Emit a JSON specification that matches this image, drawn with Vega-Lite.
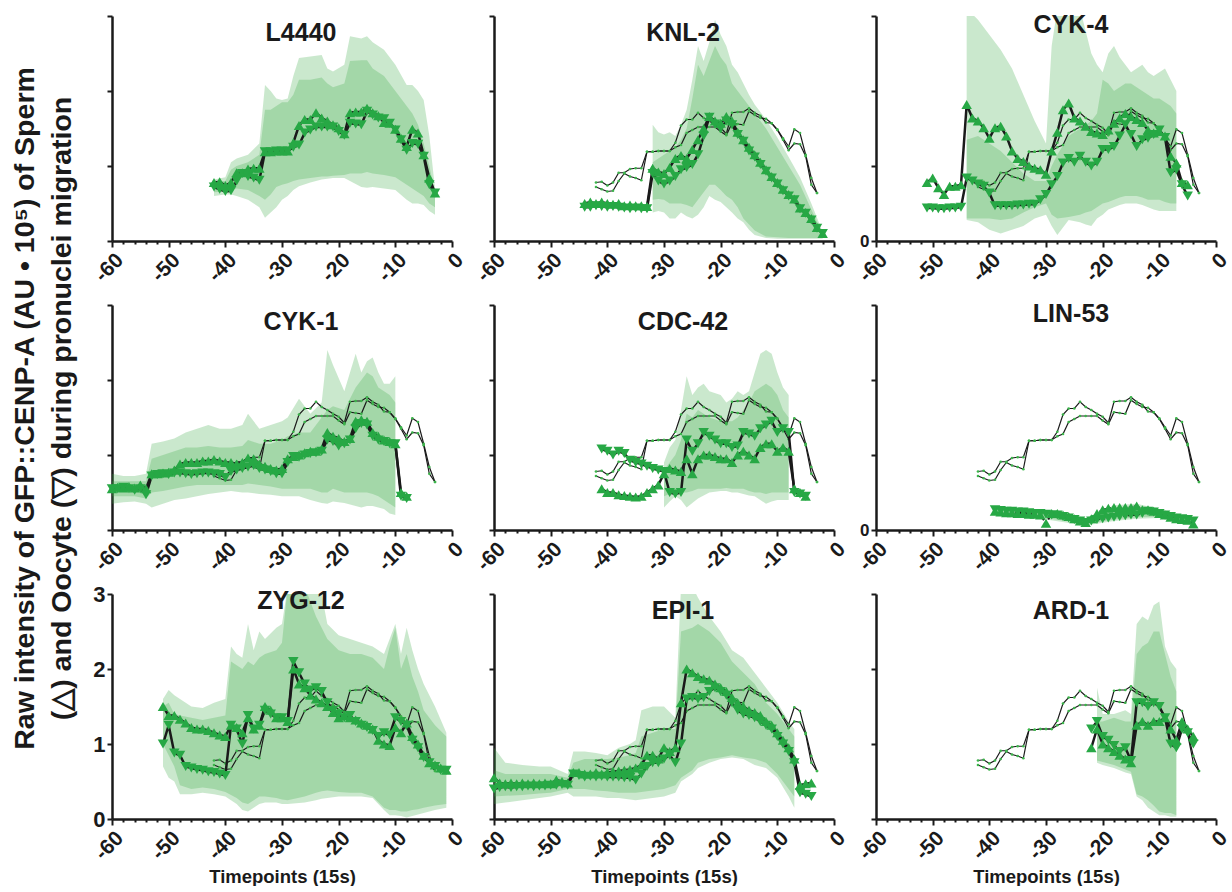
{
"$schema":"https://vega.github.io/schema/vega-lite/v6.json",
"background":"white",
"padding":{"left":10,"top":7,"right":0,"bottom":0},
"bounds":"flush",
"columns":3,
"spacing":{"row":64,"column":42},
"config":{"view":{"stroke":null},
"axis":{"domainColor":"#1a1a1a","domainWidth":2.5,"tickColor":"#1a1a1a","tickWidth":2,"grid":false,"labelFont":"Liberation Sans","labelFontWeight":"bold","labelColor":"#1a1a1a","labelOverlap":false,"titleFont":"Liberation Sans","titleFontWeight":"bold","titleColor":"#1a1a1a","titleFontSize":18.5},
"title":{"font":"Liberation Sans","fontWeight":"bold","fontSize":25,"color":"#1a1a1a","offset":-31,"anchor":"middle","frame":"group"}},
"datasets":{
"means":[
{"p":"L4440","t":-42,"S":0.78,"O":0.72},{"p":"L4440","t":-41,"S":0.79,"O":0.69},{"p":"L4440","t":-40,"S":0.74,"O":0.66},{"p":"L4440","t":-39,"S":0.78,"O":0.67},{"p":"L4440","t":-38,"S":0.91,"O":0.8},{"p":"L4440","t":-37,"S":0.91,"O":0.9},{"p":"L4440","t":-36,"S":0.96,"O":0.86},{"p":"L4440","t":-35,"S":0.97,"O":0.84},{"p":"L4440","t":-34,"S":0.97,"O":0.81},{"p":"L4440","t":-33,"S":1.19,"O":1.19},{"p":"L4440","t":-32,"S":1.19,"O":1.19},{"p":"L4440","t":-31,"S":1.2,"O":1.2},{"p":"L4440","t":-30,"S":1.2,"O":1.2},{"p":"L4440","t":-29,"S":1.2,"O":1.2},{"p":"L4440","t":-28,"S":1.31,"O":1.25},{"p":"L4440","t":-27,"S":1.54,"O":1.28},{"p":"L4440","t":-26,"S":1.62,"O":1.44},{"p":"L4440","t":-25,"S":1.62,"O":1.48},{"p":"L4440","t":-24,"S":1.71,"O":1.52},{"p":"L4440","t":-23,"S":1.64,"O":1.52},{"p":"L4440","t":-22,"S":1.6,"O":1.52},{"p":"L4440","t":-21,"S":1.55,"O":1.52},{"p":"L4440","t":-20,"S":1.51,"O":1.46},{"p":"L4440","t":-19,"S":1.43,"O":1.41},{"p":"L4440","t":-18,"S":1.71,"O":1.57},{"p":"L4440","t":-17,"S":1.72,"O":1.56},{"p":"L4440","t":-16,"S":1.72,"O":1.55},{"p":"L4440","t":-15,"S":1.77,"O":1.73},{"p":"L4440","t":-14,"S":1.71,"O":1.68},{"p":"L4440","t":-13,"S":1.67,"O":1.64},{"p":"L4440","t":-12,"S":1.58,"O":1.63},{"p":"L4440","t":-11,"S":1.57,"O":1.57},{"p":"L4440","t":-10,"S":1.49,"O":1.48},{"p":"L4440","t":-9,"S":1.37,"O":1.35},{"p":"L4440","t":-8,"S":1.26,"O":1.21},{"p":"L4440","t":-7,"S":1.49,"O":1.3},{"p":"L4440","t":-6,"S":1.44,"O":1.29},{"p":"L4440","t":-5,"S":1.15,"O":1.13},{"p":"L4440","t":-4,"S":0.84,"O":0.75},{"p":"L4440","t":-3,"S":0.64,"O":0.64},
{"p":"KNL-2","t":-44,"S":0.5,"O":0.45},{"p":"KNL-2","t":-43,"S":0.52,"O":0.45},{"p":"KNL-2","t":-42,"S":0.5,"O":0.47},{"p":"KNL-2","t":-41,"S":0.52,"O":0.46},{"p":"KNL-2","t":-40,"S":0.5,"O":0.45},{"p":"KNL-2","t":-39,"S":0.49,"O":0.46},{"p":"KNL-2","t":-38,"S":0.5,"O":0.45},{"p":"KNL-2","t":-37,"S":0.47,"O":0.44},{"p":"KNL-2","t":-36,"S":0.48,"O":0.43},{"p":"KNL-2","t":-35,"S":0.47,"O":0.44},{"p":"KNL-2","t":-34,"S":0.47,"O":0.43},{"p":"KNL-2","t":-33,"S":0.46,"O":0.43},{"p":"KNL-2","t":-32,"S":0.97,"O":0.9},{"p":"KNL-2","t":-31,"S":0.92,"O":0.8},{"p":"KNL-2","t":-30,"S":0.9,"O":0.76},{"p":"KNL-2","t":-29,"S":0.98,"O":0.8},{"p":"KNL-2","t":-28,"S":1.1,"O":0.86},{"p":"KNL-2","t":-27,"S":1.14,"O":0.95},{"p":"KNL-2","t":-26,"S":1.1,"O":0.98},{"p":"KNL-2","t":-25,"S":1.22,"O":1.02},{"p":"KNL-2","t":-24,"S":1.35,"O":1.15},{"p":"KNL-2","t":-23,"S":1.5,"O":1.4},{"p":"KNL-2","t":-22,"S":1.66,"O":1.65},{"p":"KNL-2","t":-21,"S":1.6,"O":1.56},{"p":"KNL-2","t":-20,"S":1.57,"O":1.5},{"p":"KNL-2","t":-19,"S":1.66,"O":1.6},{"p":"KNL-2","t":-18,"S":1.6,"O":1.55},{"p":"KNL-2","t":-17,"S":1.45,"O":1.42},{"p":"KNL-2","t":-16,"S":1.35,"O":1.33},{"p":"KNL-2","t":-15,"S":1.25,"O":1.2},{"p":"KNL-2","t":-14,"S":1.15,"O":1.12},{"p":"KNL-2","t":-13,"S":1.05,"O":1.02},{"p":"KNL-2","t":-12,"S":0.95,"O":0.93},{"p":"KNL-2","t":-11,"S":0.86,"O":0.84},{"p":"KNL-2","t":-10,"S":0.78,"O":0.76},{"p":"KNL-2","t":-9,"S":0.69,"O":0.67},{"p":"KNL-2","t":-8,"S":0.62,"O":0.6},{"p":"KNL-2","t":-7,"S":0.56,"O":0.55},{"p":"KNL-2","t":-6,"S":0.44,"O":0.43},{"p":"KNL-2","t":-5,"S":0.38,"O":0.37},{"p":"KNL-2","t":-4,"S":0.3,"O":0.28},{"p":"KNL-2","t":-3,"S":0.18,"O":0.17},{"p":"KNL-2","t":-2,"S":0.1,"O":0.1},
{"p":"CYK-4","t":-51,"S":0.78,"O":0.44},{"p":"CYK-4","t":-50,"S":0.84,"O":0.44},{"p":"CYK-4","t":-49,"S":0.71,"O":0.43},{"p":"CYK-4","t":-48,"S":0.62,"O":0.43},{"p":"CYK-4","t":-47,"S":0.73,"O":0.44},{"p":"CYK-4","t":-46,"S":0.73,"O":0.44},{"p":"CYK-4","t":-45,"S":0.75,"O":0.45},{"p":"CYK-4","t":-44,"S":1.82,"O":0.84},{"p":"CYK-4","t":-43,"S":1.64,"O":0.8},{"p":"CYK-4","t":-42,"S":1.6,"O":0.76},{"p":"CYK-4","t":-41,"S":1.51,"O":0.73},{"p":"CYK-4","t":-40,"S":1.37,"O":0.64},{"p":"CYK-4","t":-39,"S":1.51,"O":0.47},{"p":"CYK-4","t":-38,"S":1.53,"O":0.47},{"p":"CYK-4","t":-37,"S":1.4,"O":0.47},{"p":"CYK-4","t":-36,"S":1.2,"O":0.47},{"p":"CYK-4","t":-35,"S":1.1,"O":0.48},{"p":"CYK-4","t":-34,"S":1.06,"O":0.48},{"p":"CYK-4","t":-33,"S":1.0,"O":0.49},{"p":"CYK-4","t":-32,"S":0.97,"O":0.49},{"p":"CYK-4","t":-31,"S":0.95,"O":0.55},{"p":"CYK-4","t":-30,"S":0.89,"O":0.62},{"p":"CYK-4","t":-29,"S":1.2,"O":0.75},{"p":"CYK-4","t":-28,"S":1.45,"O":0.86},{"p":"CYK-4","t":-27,"S":1.75,"O":1.04},{"p":"CYK-4","t":-26,"S":1.84,"O":1.1},{"p":"CYK-4","t":-25,"S":1.64,"O":1.05},{"p":"CYK-4","t":-24,"S":1.6,"O":1.13},{"p":"CYK-4","t":-23,"S":1.53,"O":1.05},{"p":"CYK-4","t":-22,"S":1.46,"O":1.0},{"p":"CYK-4","t":-21,"S":1.44,"O":1.05},{"p":"CYK-4","t":-20,"S":1.42,"O":1.22},{"p":"CYK-4","t":-19,"S":1.48,"O":1.22},{"p":"CYK-4","t":-18,"S":1.57,"O":1.26},{"p":"CYK-4","t":-17,"S":1.64,"O":1.4},{"p":"CYK-4","t":-16,"S":1.7,"O":1.55},{"p":"CYK-4","t":-15,"S":1.66,"O":1.42},{"p":"CYK-4","t":-14,"S":1.62,"O":1.26},{"p":"CYK-4","t":-13,"S":1.58,"O":1.35},{"p":"CYK-4","t":-12,"S":1.48,"O":1.37},{"p":"CYK-4","t":-11,"S":1.44,"O":1.42},{"p":"CYK-4","t":-10,"S":1.46,"O":1.48},{"p":"CYK-4","t":-9,"S":1.4,"O":1.38},{"p":"CYK-4","t":-8,"S":1.13,"O":0.91},{"p":"CYK-4","t":-7,"S":1.04,"O":0.95},{"p":"CYK-4","t":-6,"S":0.78,"O":0.75},{"p":"CYK-4","t":-5,"S":0.75,"O":0.6},
{"p":"CYK-1","t":-60,"S":0.55,"O":0.55},{"p":"CYK-1","t":-59,"S":0.57,"O":0.55},{"p":"CYK-1","t":-58,"S":0.56,"O":0.57},{"p":"CYK-1","t":-57,"S":0.58,"O":0.55},{"p":"CYK-1","t":-56,"S":0.56,"O":0.53},{"p":"CYK-1","t":-55,"S":0.6,"O":0.55},{"p":"CYK-1","t":-54,"S":0.55,"O":0.47},{"p":"CYK-1","t":-53,"S":0.75,"O":0.72},{"p":"CYK-1","t":-52,"S":0.75,"O":0.74},{"p":"CYK-1","t":-51,"S":0.76,"O":0.75},{"p":"CYK-1","t":-50,"S":0.77,"O":0.74},{"p":"CYK-1","t":-49,"S":0.8,"O":0.76},{"p":"CYK-1","t":-48,"S":0.88,"O":0.76},{"p":"CYK-1","t":-47,"S":0.9,"O":0.75},{"p":"CYK-1","t":-46,"S":0.9,"O":0.74},{"p":"CYK-1","t":-45,"S":0.9,"O":0.75},{"p":"CYK-1","t":-44,"S":0.92,"O":0.76},{"p":"CYK-1","t":-43,"S":0.92,"O":0.76},{"p":"CYK-1","t":-42,"S":0.94,"O":0.75},{"p":"CYK-1","t":-41,"S":0.92,"O":0.74},{"p":"CYK-1","t":-40,"S":0.9,"O":0.7},{"p":"CYK-1","t":-39,"S":0.9,"O":0.78},{"p":"CYK-1","t":-38,"S":0.88,"O":0.8},{"p":"CYK-1","t":-37,"S":0.9,"O":0.82},{"p":"CYK-1","t":-36,"S":0.96,"O":0.84},{"p":"CYK-1","t":-35,"S":0.95,"O":0.86},{"p":"CYK-1","t":-34,"S":0.88,"O":0.82},{"p":"CYK-1","t":-33,"S":0.85,"O":0.8},{"p":"CYK-1","t":-32,"S":0.82,"O":0.78},{"p":"CYK-1","t":-31,"S":0.8,"O":0.75},{"p":"CYK-1","t":-30,"S":0.82,"O":0.75},{"p":"CYK-1","t":-29,"S":0.95,"O":0.9},{"p":"CYK-1","t":-28,"S":0.98,"O":0.98},{"p":"CYK-1","t":-27,"S":1.0,"O":0.97},{"p":"CYK-1","t":-26,"S":1.03,"O":1.0},{"p":"CYK-1","t":-25,"S":1.05,"O":1.02},{"p":"CYK-1","t":-24,"S":1.05,"O":1.03},{"p":"CYK-1","t":-23,"S":1.08,"O":1.05},{"p":"CYK-1","t":-22,"S":1.3,"O":1.2},{"p":"CYK-1","t":-21,"S":1.25,"O":1.18},{"p":"CYK-1","t":-20,"S":1.22,"O":1.12},{"p":"CYK-1","t":-19,"S":1.18,"O":1.15},{"p":"CYK-1","t":-18,"S":1.22,"O":1.2},{"p":"CYK-1","t":-17,"S":1.45,"O":1.35},{"p":"CYK-1","t":-16,"S":1.47,"O":1.42},{"p":"CYK-1","t":-15,"S":1.45,"O":1.4},{"p":"CYK-1","t":-14,"S":1.3,"O":1.25},{"p":"CYK-1","t":-13,"S":1.25,"O":1.2},{"p":"CYK-1","t":-12,"S":1.2,"O":1.18},{"p":"CYK-1","t":-11,"S":1.18,"O":1.15},{"p":"CYK-1","t":-10,"S":1.15,"O":1.15},{"p":"CYK-1","t":-9,"S":0.5,"O":0.45},{"p":"CYK-1","t":-8,"S":0.45,"O":0.42},
{"p":"CDC-42","t":-41,"S":0.55,"O":1.08},{"p":"CDC-42","t":-40,"S":0.5,"O":1.05},{"p":"CDC-42","t":-39,"S":0.5,"O":1.0},{"p":"CDC-42","t":-38,"S":0.47,"O":1.05},{"p":"CDC-42","t":-37,"S":0.46,"O":1.02},{"p":"CDC-42","t":-36,"S":0.45,"O":0.93},{"p":"CDC-42","t":-35,"S":0.44,"O":0.9},{"p":"CDC-42","t":-34,"S":0.45,"O":0.88},{"p":"CDC-42","t":-33,"S":0.5,"O":0.85},{"p":"CDC-42","t":-32,"S":0.55,"O":0.82},{"p":"CDC-42","t":-31,"S":0.6,"O":0.8},{"p":"CDC-42","t":-30,"S":0.75,"O":0.78},{"p":"CDC-42","t":-29,"S":0.82,"O":0.5},{"p":"CDC-42","t":-28,"S":0.8,"O":0.48},{"p":"CDC-42","t":-27,"S":0.78,"O":0.5},{"p":"CDC-42","t":-26,"S":0.95,"O":1.2},{"p":"CDC-42","t":-25,"S":0.75,"O":1.05},{"p":"CDC-42","t":-24,"S":0.95,"O":1.15},{"p":"CDC-42","t":-23,"S":1.0,"O":1.3},{"p":"CDC-42","t":-22,"S":1.0,"O":1.25},{"p":"CDC-42","t":-21,"S":0.98,"O":1.2},{"p":"CDC-42","t":-20,"S":0.95,"O":1.15},{"p":"CDC-42","t":-19,"S":0.95,"O":1.15},{"p":"CDC-42","t":-18,"S":0.9,"O":1.1},{"p":"CDC-42","t":-17,"S":1.0,"O":1.12},{"p":"CDC-42","t":-16,"S":1.05,"O":1.3},{"p":"CDC-42","t":-15,"S":1.0,"O":1.28},{"p":"CDC-42","t":-14,"S":0.95,"O":1.25},{"p":"CDC-42","t":-13,"S":1.1,"O":1.35},{"p":"CDC-42","t":-12,"S":1.15,"O":1.4},{"p":"CDC-42","t":-11,"S":1.15,"O":1.45},{"p":"CDC-42","t":-10,"S":1.05,"O":1.3},{"p":"CDC-42","t":-9,"S":1.1,"O":1.35},{"p":"CDC-42","t":-8,"S":1.05,"O":1.3},{"p":"CDC-42","t":-7,"S":0.55,"O":0.5},{"p":"CDC-42","t":-6,"S":0.5,"O":0.48},{"p":"CDC-42","t":-5,"S":0.45,"O":0.45},
{"p":"LIN-53","t":-39,"S":0.25,"O":0.27},{"p":"LIN-53","t":-38,"S":0.24,"O":0.26},{"p":"LIN-53","t":-37,"S":0.23,"O":0.25},{"p":"LIN-53","t":-36,"S":0.23,"O":0.25},{"p":"LIN-53","t":-35,"S":0.22,"O":0.24},{"p":"LIN-53","t":-34,"S":0.22,"O":0.24},{"p":"LIN-53","t":-33,"S":0.21,"O":0.23},{"p":"LIN-53","t":-32,"S":0.21,"O":0.22},{"p":"LIN-53","t":-31,"S":0.2,"O":0.22},{"p":"LIN-53","t":-30,"S":0.09,"O":0.21},{"p":"LIN-53","t":-29,"S":0.22,"O":0.2},{"p":"LIN-53","t":-28,"S":0.22,"O":0.2},{"p":"LIN-53","t":-27,"S":0.2,"O":0.18},{"p":"LIN-53","t":-26,"S":0.18,"O":0.16},{"p":"LIN-53","t":-25,"S":0.15,"O":0.14},{"p":"LIN-53","t":-24,"S":0.12,"O":0.12},{"p":"LIN-53","t":-23,"S":0.1,"O":0.1},{"p":"LIN-53","t":-22,"S":0.15,"O":0.12},{"p":"LIN-53","t":-21,"S":0.22,"O":0.14},{"p":"LIN-53","t":-20,"S":0.27,"O":0.15},{"p":"LIN-53","t":-19,"S":0.29,"O":0.16},{"p":"LIN-53","t":-18,"S":0.3,"O":0.17},{"p":"LIN-53","t":-17,"S":0.3,"O":0.18},{"p":"LIN-53","t":-16,"S":0.3,"O":0.19},{"p":"LIN-53","t":-15,"S":0.3,"O":0.2},{"p":"LIN-53","t":-14,"S":0.32,"O":0.2},{"p":"LIN-53","t":-13,"S":0.27,"O":0.22},{"p":"LIN-53","t":-12,"S":0.27,"O":0.25},{"p":"LIN-53","t":-11,"S":0.25,"O":0.24},{"p":"LIN-53","t":-10,"S":0.22,"O":0.22},{"p":"LIN-53","t":-9,"S":0.2,"O":0.2},{"p":"LIN-53","t":-8,"S":0.17,"O":0.18},{"p":"LIN-53","t":-7,"S":0.15,"O":0.16},{"p":"LIN-53","t":-6,"S":0.14,"O":0.15},{"p":"LIN-53","t":-5,"S":0.13,"O":0.14},{"p":"LIN-53","t":-4,"S":0.08,"O":0.12},
{"p":"ZYG-12","t":-51,"S":1.5,"O":1.0},{"p":"ZYG-12","t":-50,"S":1.38,"O":1.25},{"p":"ZYG-12","t":-49,"S":1.38,"O":0.88},{"p":"ZYG-12","t":-48,"S":1.33,"O":0.85},{"p":"ZYG-12","t":-47,"S":1.28,"O":0.7},{"p":"ZYG-12","t":-46,"S":1.22,"O":0.68},{"p":"ZYG-12","t":-45,"S":1.2,"O":0.66},{"p":"ZYG-12","t":-44,"S":1.2,"O":0.65},{"p":"ZYG-12","t":-43,"S":1.18,"O":0.63},{"p":"ZYG-12","t":-42,"S":1.15,"O":0.62},{"p":"ZYG-12","t":-41,"S":1.12,"O":0.6},{"p":"ZYG-12","t":-40,"S":1.1,"O":0.58},{"p":"ZYG-12","t":-39,"S":1.25,"O":1.25},{"p":"ZYG-12","t":-38,"S":1.22,"O":1.2},{"p":"ZYG-12","t":-37,"S":1.15,"O":1.0},{"p":"ZYG-12","t":-36,"S":1.35,"O":1.38},{"p":"ZYG-12","t":-35,"S":1.2,"O":1.2},{"p":"ZYG-12","t":-34,"S":1.25,"O":1.25},{"p":"ZYG-12","t":-33,"S":1.5,"O":1.45},{"p":"ZYG-12","t":-32,"S":1.45,"O":1.4},{"p":"ZYG-12","t":-31,"S":1.35,"O":1.35},{"p":"ZYG-12","t":-30,"S":1.35,"O":1.35},{"p":"ZYG-12","t":-29,"S":1.3,"O":1.3},{"p":"ZYG-12","t":-28,"S":2.0,"O":2.1},{"p":"ZYG-12","t":-27,"S":1.8,"O":1.95},{"p":"ZYG-12","t":-26,"S":1.75,"O":1.8},{"p":"ZYG-12","t":-25,"S":1.65,"O":1.72},{"p":"ZYG-12","t":-24,"S":1.6,"O":1.75},{"p":"ZYG-12","t":-23,"S":1.55,"O":1.7},{"p":"ZYG-12","t":-22,"S":1.5,"O":1.55},{"p":"ZYG-12","t":-21,"S":1.42,"O":1.45},{"p":"ZYG-12","t":-20,"S":1.35,"O":1.4},{"p":"ZYG-12","t":-19,"S":1.38,"O":1.35},{"p":"ZYG-12","t":-18,"S":1.35,"O":1.38},{"p":"ZYG-12","t":-17,"S":1.32,"O":1.3},{"p":"ZYG-12","t":-16,"S":1.28,"O":1.25},{"p":"ZYG-12","t":-15,"S":1.25,"O":1.22},{"p":"ZYG-12","t":-14,"S":1.2,"O":1.18},{"p":"ZYG-12","t":-13,"S":1.05,"O":1.1},{"p":"ZYG-12","t":-12,"S":1.0,"O":1.15},{"p":"ZYG-12","t":-11,"S":0.98,"O":1.12},{"p":"ZYG-12","t":-10,"S":1.22,"O":1.35},{"p":"ZYG-12","t":-9,"S":1.15,"O":1.3},{"p":"ZYG-12","t":-8,"S":1.28,"O":1.25},{"p":"ZYG-12","t":-7,"S":1.1,"O":1.05},{"p":"ZYG-12","t":-6,"S":1.0,"O":0.95},{"p":"ZYG-12","t":-5,"S":0.85,"O":0.82},{"p":"ZYG-12","t":-4,"S":0.75,"O":0.75},{"p":"ZYG-12","t":-3,"S":0.72,"O":0.7},{"p":"ZYG-12","t":-2,"S":0.68,"O":0.65},{"p":"ZYG-12","t":-1,"S":0.65,"O":0.65},
{"p":"EPI-1","t":-60,"S":0.55,"O":0.4},{"p":"EPI-1","t":-59,"S":0.48,"O":0.42},{"p":"EPI-1","t":-58,"S":0.47,"O":0.43},{"p":"EPI-1","t":-57,"S":0.48,"O":0.42},{"p":"EPI-1","t":-56,"S":0.47,"O":0.43},{"p":"EPI-1","t":-55,"S":0.48,"O":0.43},{"p":"EPI-1","t":-54,"S":0.47,"O":0.44},{"p":"EPI-1","t":-53,"S":0.48,"O":0.43},{"p":"EPI-1","t":-52,"S":0.47,"O":0.44},{"p":"EPI-1","t":-51,"S":0.48,"O":0.44},{"p":"EPI-1","t":-50,"S":0.47,"O":0.45},{"p":"EPI-1","t":-49,"S":0.52,"O":0.45},{"p":"EPI-1","t":-48,"S":0.5,"O":0.46},{"p":"EPI-1","t":-47,"S":0.48,"O":0.45},{"p":"EPI-1","t":-46,"S":0.62,"O":0.6},{"p":"EPI-1","t":-45,"S":0.62,"O":0.58},{"p":"EPI-1","t":-44,"S":0.6,"O":0.56},{"p":"EPI-1","t":-43,"S":0.6,"O":0.57},{"p":"EPI-1","t":-42,"S":0.62,"O":0.56},{"p":"EPI-1","t":-41,"S":0.6,"O":0.57},{"p":"EPI-1","t":-40,"S":0.62,"O":0.56},{"p":"EPI-1","t":-39,"S":0.63,"O":0.56},{"p":"EPI-1","t":-38,"S":0.64,"O":0.56},{"p":"EPI-1","t":-37,"S":0.65,"O":0.55},{"p":"EPI-1","t":-36,"S":0.66,"O":0.55},{"p":"EPI-1","t":-35,"S":0.68,"O":0.52},{"p":"EPI-1","t":-34,"S":0.72,"O":0.6},{"p":"EPI-1","t":-33,"S":0.85,"O":0.7},{"p":"EPI-1","t":-32,"S":0.85,"O":0.75},{"p":"EPI-1","t":-31,"S":0.8,"O":0.75},{"p":"EPI-1","t":-30,"S":0.95,"O":0.8},{"p":"EPI-1","t":-29,"S":0.9,"O":0.85},{"p":"EPI-1","t":-28,"S":0.95,"O":0.75},{"p":"EPI-1","t":-27,"S":1.55,"O":1.0},{"p":"EPI-1","t":-26,"S":2.0,"O":1.6},{"p":"EPI-1","t":-25,"S":1.95,"O":1.62},{"p":"EPI-1","t":-24,"S":1.9,"O":1.6},{"p":"EPI-1","t":-23,"S":1.87,"O":1.62},{"p":"EPI-1","t":-22,"S":1.85,"O":1.7},{"p":"EPI-1","t":-21,"S":1.8,"O":1.75},{"p":"EPI-1","t":-20,"S":1.75,"O":1.7},{"p":"EPI-1","t":-19,"S":1.7,"O":1.65},{"p":"EPI-1","t":-18,"S":1.62,"O":1.55},{"p":"EPI-1","t":-17,"S":1.55,"O":1.45},{"p":"EPI-1","t":-16,"S":1.5,"O":1.4},{"p":"EPI-1","t":-15,"S":1.45,"O":1.38},{"p":"EPI-1","t":-14,"S":1.42,"O":1.35},{"p":"EPI-1","t":-13,"S":1.38,"O":1.3},{"p":"EPI-1","t":-12,"S":1.3,"O":1.25},{"p":"EPI-1","t":-11,"S":1.25,"O":1.2},{"p":"EPI-1","t":-10,"S":1.15,"O":1.1},{"p":"EPI-1","t":-9,"S":1.05,"O":1.0},{"p":"EPI-1","t":-8,"S":0.95,"O":0.9},{"p":"EPI-1","t":-7,"S":0.8,"O":0.75},{"p":"EPI-1","t":-6,"S":0.45,"O":0.35},{"p":"EPI-1","t":-5,"S":0.47,"O":0.33},{"p":"EPI-1","t":-4,"S":0.48,"O":0.3},
{"p":"ARD-1","t":-22,"S":0.95,"O":1.2},{"p":"ARD-1","t":-21,"S":1.2,"O":1.3},{"p":"ARD-1","t":-20,"S":1.0,"O":1.1},{"p":"ARD-1","t":-19,"S":0.95,"O":1.05},{"p":"ARD-1","t":-18,"S":0.9,"O":0.98},{"p":"ARD-1","t":-17,"S":0.85,"O":0.9},{"p":"ARD-1","t":-16,"S":0.8,"O":0.95},{"p":"ARD-1","t":-15,"S":0.75,"O":0.78},{"p":"ARD-1","t":-14,"S":1.25,"O":1.55},{"p":"ARD-1","t":-13,"S":1.3,"O":1.55},{"p":"ARD-1","t":-12,"S":1.25,"O":1.5},{"p":"ARD-1","t":-11,"S":1.3,"O":1.55},{"p":"ARD-1","t":-10,"S":1.3,"O":1.5},{"p":"ARD-1","t":-9,"S":1.35,"O":1.35},{"p":"ARD-1","t":-8,"S":1.2,"O":1.0},{"p":"ARD-1","t":-7,"S":1.05,"O":0.95},{"p":"ARD-1","t":-6,"S":1.3,"O":1.2},{"p":"ARD-1","t":-5,"S":1.2,"O":1.15},{"p":"ARD-1","t":-4,"S":1.1,"O":1.0}
],
"bands":[
{"p":"L4440","t":-42,"ot":0.82,"it":0.8,"ob":0.6,"ib":0.65},{"p":"L4440","t":-40,"ot":0.85,"it":0.8,"ob":0.62,"ib":0.66},{"p":"L4440","t":-39,"ot":1.05,"it":0.95,"ob":0.62,"ib":0.68},{"p":"L4440","t":-38,"ot":1.1,"it":1.0,"ob":0.6,"ib":0.7},{"p":"L4440","t":-36,"ot":1.15,"it":1.05,"ob":0.55,"ib":0.68},{"p":"L4440","t":-34,"ot":1.3,"it":1.15,"ob":0.45,"ib":0.6},{"p":"L4440","t":-33,"ot":2.08,"it":1.75,"ob":0.31,"ib":0.55},{"p":"L4440","t":-32,"ot":2.0,"it":1.75,"ob":0.38,"ib":0.62},{"p":"L4440","t":-31,"ot":1.9,"it":1.8,"ob":0.45,"ib":0.72},{"p":"L4440","t":-30,"ot":1.88,"it":1.85,"ob":0.55,"ib":0.75},{"p":"L4440","t":-29,"ot":1.9,"it":1.85,"ob":0.6,"ib":0.77},{"p":"L4440","t":-28,"ot":2.2,"it":1.95,"ob":0.68,"ib":0.8},{"p":"L4440","t":-27,"ot":2.44,"it":2.15,"ob":0.73,"ib":0.82},{"p":"L4440","t":-25,"ot":2.46,"it":2.15,"ob":0.78,"ib":0.84},{"p":"L4440","t":-23,"ot":2.48,"it":2.18,"ob":0.82,"ib":0.86},{"p":"L4440","t":-22,"ot":2.3,"it":2.1,"ob":0.83,"ib":0.86},{"p":"L4440","t":-21,"ot":2.26,"it":2.05,"ob":0.84,"ib":0.87},{"p":"L4440","t":-19,"ot":2.35,"it":2.1,"ob":0.84,"ib":0.88},{"p":"L4440","t":-18,"ot":2.73,"it":2.4,"ob":0.8,"ib":0.9},{"p":"L4440","t":-16,"ot":2.7,"it":2.41,"ob":0.72,"ib":0.9},{"p":"L4440","t":-15,"ot":2.73,"it":2.41,"ob":0.71,"ib":0.92},{"p":"L4440","t":-14,"ot":2.65,"it":2.3,"ob":0.72,"ib":0.9},{"p":"L4440","t":-12,"ot":2.55,"it":2.2,"ob":0.7,"ib":0.88},{"p":"L4440","t":-10,"ot":2.35,"it":2.0,"ob":0.68,"ib":0.85},{"p":"L4440","t":-8,"ot":2.08,"it":1.8,"ob":0.55,"ib":0.75},{"p":"L4440","t":-7,"ot":2.08,"it":1.7,"ob":0.5,"ib":0.7},{"p":"L4440","t":-6,"ot":2.0,"it":1.55,"ob":0.5,"ib":0.65},{"p":"L4440","t":-5,"ot":1.88,"it":1.3,"ob":0.48,"ib":0.6},{"p":"L4440","t":-4,"ot":1.4,"it":1.0,"ob":0.4,"ib":0.5},{"p":"L4440","t":-3,"ot":0.7,"it":0.65,"ob":0.35,"ib":0.45},
{"p":"KNL-2","t":-32,"ot":1.55,"it":1.05,"ob":0.38,"ib":0.55},{"p":"KNL-2","t":-31,"ot":1.45,"it":1.1,"ob":0.4,"ib":0.56},{"p":"KNL-2","t":-30,"ot":1.42,"it":1.15,"ob":0.38,"ib":0.55},{"p":"KNL-2","t":-29,"ot":1.45,"it":1.2,"ob":0.3,"ib":0.5},{"p":"KNL-2","t":-28,"ot":1.4,"it":1.25,"ob":0.3,"ib":0.5},{"p":"KNL-2","t":-27,"ot":1.55,"it":1.35,"ob":0.38,"ib":0.5},{"p":"KNL-2","t":-26,"ot":1.75,"it":1.5,"ob":0.33,"ib":0.48},{"p":"KNL-2","t":-25,"ot":2.15,"it":1.9,"ob":0.3,"ib":0.45},{"p":"KNL-2","t":-24,"ot":2.6,"it":2.35,"ob":0.35,"ib":0.55},{"p":"KNL-2","t":-23,"ot":2.4,"it":2.2,"ob":0.45,"ib":0.65},{"p":"KNL-2","t":-22,"ot":2.65,"it":2.4,"ob":0.6,"ib":0.75},{"p":"KNL-2","t":-21,"ot":2.95,"it":2.6,"ob":0.55,"ib":0.75},{"p":"KNL-2","t":-20,"ot":2.75,"it":2.45,"ob":0.52,"ib":0.68},{"p":"KNL-2","t":-19,"ot":2.6,"it":2.35,"ob":0.45,"ib":0.6},{"p":"KNL-2","t":-18,"ot":2.35,"it":2.1,"ob":0.38,"ib":0.55},{"p":"KNL-2","t":-17,"ot":2.25,"it":2.0,"ob":0.3,"ib":0.45},{"p":"KNL-2","t":-16,"ot":2.1,"it":1.9,"ob":0.25,"ib":0.3},{"p":"KNL-2","t":-15,"ot":1.95,"it":1.8,"ob":0.15,"ib":0.22},{"p":"KNL-2","t":-14,"ot":1.82,"it":1.7,"ob":0.08,"ib":0.14},{"p":"KNL-2","t":-12,"ot":1.62,"it":1.5,"ob":0.04,"ib":0.06},{"p":"KNL-2","t":-10,"ot":1.38,"it":1.25,"ob":0.03,"ib":0.05},{"p":"KNL-2","t":-8,"ot":1.12,"it":1.0,"ob":0.03,"ib":0.04},{"p":"KNL-2","t":-6,"ot":0.85,"it":0.75,"ob":0.03,"ib":0.04},{"p":"KNL-2","t":-4,"ot":0.5,"it":0.42,"ob":0.03,"ib":0.04},{"p":"KNL-2","t":-2,"ot":0.12,"it":0.1,"ob":0.03,"ib":0.04},
{"p":"CYK-4","t":-44,"ot":3.1,"it":1.35,"ob":0.28,"ib":0.3},{"p":"CYK-4","t":-42,"ot":2.95,"it":1.4,"ob":0.25,"ib":0.3},{"p":"CYK-4","t":-40,"ot":2.75,"it":1.3,"ob":0.15,"ib":0.3},{"p":"CYK-4","t":-38,"ot":2.55,"it":1.2,"ob":0.1,"ib":0.28},{"p":"CYK-4","t":-36,"ot":2.3,"it":1.05,"ob":0.15,"ib":0.3},{"p":"CYK-4","t":-34,"ot":1.95,"it":0.9,"ob":0.2,"ib":0.38},{"p":"CYK-4","t":-32,"ot":1.6,"it":0.8,"ob":0.3,"ib":0.45},{"p":"CYK-4","t":-30,"ot":1.3,"it":0.8,"ob":0.35,"ib":0.5},{"p":"CYK-4","t":-29,"ot":2.6,"it":1.0,"ob":0.2,"ib":0.35},{"p":"CYK-4","t":-28,"ot":3.1,"it":1.15,"ob":0.08,"ib":0.3},{"p":"CYK-4","t":-26,"ot":3.1,"it":1.4,"ob":0.28,"ib":0.32},{"p":"CYK-4","t":-24,"ot":3.1,"it":1.5,"ob":0.25,"ib":0.35},{"p":"CYK-4","t":-23,"ot":2.8,"it":1.55,"ob":0.22,"ib":0.38},{"p":"CYK-4","t":-22,"ot":2.5,"it":1.6,"ob":0.2,"ib":0.4},{"p":"CYK-4","t":-21,"ot":2.35,"it":1.7,"ob":0.3,"ib":0.45},{"p":"CYK-4","t":-20,"ot":2.25,"it":2.15,"ob":0.35,"ib":0.5},{"p":"CYK-4","t":-19,"ot":2.5,"it":2.1,"ob":0.42,"ib":0.52},{"p":"CYK-4","t":-18,"ot":2.6,"it":2.0,"ob":0.45,"ib":0.55},{"p":"CYK-4","t":-17,"ot":2.45,"it":2.05,"ob":0.48,"ib":0.58},{"p":"CYK-4","t":-16,"ot":2.35,"it":2.1,"ob":0.5,"ib":0.6},{"p":"CYK-4","t":-15,"ot":2.25,"it":2.1,"ob":0.5,"ib":0.6},{"p":"CYK-4","t":-14,"ot":2.3,"it":2.05,"ob":0.5,"ib":0.6},{"p":"CYK-4","t":-13,"ot":2.35,"it":2.0,"ob":0.48,"ib":0.58},{"p":"CYK-4","t":-12,"ot":2.25,"it":1.95,"ob":0.45,"ib":0.55},{"p":"CYK-4","t":-11,"ot":2.2,"it":1.9,"ob":0.42,"ib":0.55},{"p":"CYK-4","t":-10,"ot":2.25,"it":1.9,"ob":0.4,"ib":0.55},{"p":"CYK-4","t":-9,"ot":2.3,"it":1.85,"ob":0.4,"ib":0.52},{"p":"CYK-4","t":-8,"ot":2.15,"it":1.8,"ob":0.4,"ib":0.5},{"p":"CYK-4","t":-7,"ot":2.0,"it":1.7,"ob":0.4,"ib":0.5},
{"p":"CYK-1","t":-60,"ot":0.75,"it":0.65,"ob":0.35,"ib":0.45},{"p":"CYK-1","t":-58,"ot":0.72,"it":0.65,"ob":0.37,"ib":0.45},{"p":"CYK-1","t":-56,"ot":0.72,"it":0.65,"ob":0.38,"ib":0.45},{"p":"CYK-1","t":-54,"ot":0.75,"it":0.65,"ob":0.35,"ib":0.42},{"p":"CYK-1","t":-53,"ot":1.15,"it":0.95,"ob":0.3,"ib":0.5},{"p":"CYK-1","t":-51,"ot":1.18,"it":1.0,"ob":0.35,"ib":0.52},{"p":"CYK-1","t":-49,"ot":1.22,"it":1.05,"ob":0.4,"ib":0.55},{"p":"CYK-1","t":-47,"ot":1.3,"it":1.1,"ob":0.42,"ib":0.58},{"p":"CYK-1","t":-45,"ot":1.35,"it":1.1,"ob":0.45,"ib":0.6},{"p":"CYK-1","t":-43,"ot":1.4,"it":1.12,"ob":0.48,"ib":0.6},{"p":"CYK-1","t":-41,"ot":1.35,"it":1.1,"ob":0.5,"ib":0.6},{"p":"CYK-1","t":-39,"ot":1.35,"it":1.1,"ob":0.52,"ib":0.6},{"p":"CYK-1","t":-37,"ot":1.4,"it":1.12,"ob":0.5,"ib":0.6},{"p":"CYK-1","t":-36,"ot":1.55,"it":1.2,"ob":0.5,"ib":0.62},{"p":"CYK-1","t":-34,"ot":1.35,"it":1.15,"ob":0.48,"ib":0.6},{"p":"CYK-1","t":-32,"ot":1.4,"it":1.15,"ob":0.47,"ib":0.58},{"p":"CYK-1","t":-30,"ot":1.45,"it":1.2,"ob":0.45,"ib":0.55},{"p":"CYK-1","t":-29,"ot":1.5,"it":1.25,"ob":0.45,"ib":0.55},{"p":"CYK-1","t":-27,"ot":1.75,"it":1.3,"ob":0.45,"ib":0.55},{"p":"CYK-1","t":-25,"ot":1.55,"it":1.3,"ob":0.4,"ib":0.55},{"p":"CYK-1","t":-23,"ot":1.7,"it":1.5,"ob":0.36,"ib":0.5},{"p":"CYK-1","t":-22,"ot":2.4,"it":1.6,"ob":0.35,"ib":0.5},{"p":"CYK-1","t":-21,"ot":2.2,"it":1.65,"ob":0.38,"ib":0.55},{"p":"CYK-1","t":-19,"ot":1.85,"it":1.6,"ob":0.36,"ib":0.5},{"p":"CYK-1","t":-17,"ot":2.35,"it":1.9,"ob":0.32,"ib":0.5},{"p":"CYK-1","t":-16,"ot":2.1,"it":2.0,"ob":0.3,"ib":0.5},{"p":"CYK-1","t":-15,"ot":2.25,"it":2.1,"ob":0.32,"ib":0.5},{"p":"CYK-1","t":-14,"ot":2.3,"it":2.05,"ob":0.32,"ib":0.48},{"p":"CYK-1","t":-13,"ot":2.1,"it":1.9,"ob":0.3,"ib":0.45},{"p":"CYK-1","t":-12,"ot":1.95,"it":1.85,"ob":0.28,"ib":0.4},{"p":"CYK-1","t":-11,"ot":1.95,"it":1.8,"ob":0.22,"ib":0.35},{"p":"CYK-1","t":-10,"ot":2.05,"it":1.7,"ob":0.2,"ib":0.3},
{"p":"CDC-42","t":-30,"ot":0.9,"it":0.8,"ob":0.3,"ib":0.45},{"p":"CDC-42","t":-29,"ot":1.1,"it":0.9,"ob":0.38,"ib":0.48},{"p":"CDC-42","t":-28,"ot":1.2,"it":1.0,"ob":0.45,"ib":0.5},{"p":"CDC-42","t":-27,"ot":1.6,"it":1.2,"ob":0.4,"ib":0.5},{"p":"CDC-42","t":-26,"ot":2.05,"it":1.55,"ob":0.3,"ib":0.5},{"p":"CDC-42","t":-25,"ot":1.8,"it":1.5,"ob":0.36,"ib":0.52},{"p":"CDC-42","t":-24,"ot":1.9,"it":1.6,"ob":0.42,"ib":0.55},{"p":"CDC-42","t":-23,"ot":1.95,"it":1.55,"ob":0.46,"ib":0.55},{"p":"CDC-42","t":-22,"ot":1.85,"it":1.5,"ob":0.5,"ib":0.55},{"p":"CDC-42","t":-20,"ot":1.8,"it":1.45,"ob":0.52,"ib":0.55},{"p":"CDC-42","t":-19,"ot":1.7,"it":1.45,"ob":0.52,"ib":0.56},{"p":"CDC-42","t":-18,"ot":1.75,"it":1.45,"ob":0.5,"ib":0.55},{"p":"CDC-42","t":-17,"ot":1.85,"it":1.5,"ob":0.5,"ib":0.55},{"p":"CDC-42","t":-16,"ot":1.8,"it":1.6,"ob":0.48,"ib":0.55},{"p":"CDC-42","t":-15,"ot":1.85,"it":1.7,"ob":0.46,"ib":0.52},{"p":"CDC-42","t":-14,"ot":2.1,"it":1.85,"ob":0.45,"ib":0.5},{"p":"CDC-42","t":-13,"ot":2.35,"it":1.9,"ob":0.4,"ib":0.5},{"p":"CDC-42","t":-12,"ot":2.4,"it":1.95,"ob":0.35,"ib":0.48},{"p":"CDC-42","t":-11,"ot":2.35,"it":1.9,"ob":0.38,"ib":0.5},{"p":"CDC-42","t":-10,"ot":2.1,"it":1.8,"ob":0.4,"ib":0.5},{"p":"CDC-42","t":-9,"ot":1.9,"it":1.6,"ob":0.4,"ib":0.5},{"p":"CDC-42","t":-8,"ot":1.8,"it":1.5,"ob":0.4,"ib":0.5},
{"p":"LIN-53","t":-39,"ot":0.3,"it":0.28,"ob":0.2,"ib":0.22},{"p":"LIN-53","t":-30,"ot":0.26,"it":0.24,"ob":0.14,"ib":0.16},{"p":"LIN-53","t":-23,"ot":0.16,"it":0.14,"ob":0.06,"ib":0.08},{"p":"LIN-53","t":-18,"ot":0.33,"it":0.3,"ob":0.12,"ib":0.14},{"p":"LIN-53","t":-14,"ot":0.35,"it":0.32,"ob":0.15,"ib":0.17},{"p":"LIN-53","t":-10,"ot":0.28,"it":0.26,"ob":0.16,"ib":0.18},{"p":"LIN-53","t":-4,"ot":0.16,"it":0.14,"ob":0.06,"ib":0.08},
{"p":"ZYG-12","t":-51,"ot":1.6,"it":1.5,"ob":0.7,"ib":1.0},{"p":"ZYG-12","t":-50,"ot":1.72,"it":1.55,"ob":0.55,"ib":0.85},{"p":"ZYG-12","t":-49,"ot":1.65,"it":1.4,"ob":0.5,"ib":0.7},{"p":"ZYG-12","t":-48,"ot":1.6,"it":1.38,"ob":0.33,"ib":0.45},{"p":"ZYG-12","t":-46,"ot":1.5,"it":1.35,"ob":0.33,"ib":0.4},{"p":"ZYG-12","t":-44,"ot":1.48,"it":1.32,"ob":0.35,"ib":0.42},{"p":"ZYG-12","t":-42,"ot":1.55,"it":1.35,"ob":0.33,"ib":0.4},{"p":"ZYG-12","t":-40,"ot":1.6,"it":1.38,"ob":0.3,"ib":0.36},{"p":"ZYG-12","t":-39,"ot":2.3,"it":2.1,"ob":0.25,"ib":0.32},{"p":"ZYG-12","t":-38,"ot":2.2,"it":2.05,"ob":0.2,"ib":0.28},{"p":"ZYG-12","t":-37,"ot":2.15,"it":2.0,"ob":0.12,"ib":0.22},{"p":"ZYG-12","t":-36,"ot":2.6,"it":2.1,"ob":0.1,"ib":0.2},{"p":"ZYG-12","t":-35,"ot":2.25,"it":2.05,"ob":0.15,"ib":0.25},{"p":"ZYG-12","t":-34,"ot":2.5,"it":2.15,"ob":0.2,"ib":0.3},{"p":"ZYG-12","t":-33,"ot":2.4,"it":2.2,"ob":0.22,"ib":0.3},{"p":"ZYG-12","t":-31,"ot":2.55,"it":2.25,"ob":0.22,"ib":0.28},{"p":"ZYG-12","t":-30,"ot":2.6,"it":2.35,"ob":0.2,"ib":0.26},{"p":"ZYG-12","t":-29,"ot":3.1,"it":3.1,"ob":0.2,"ib":0.25},{"p":"ZYG-12","t":-26,"ot":3.1,"it":3.1,"ob":0.22,"ib":0.3},{"p":"ZYG-12","t":-24,"ot":3.1,"it":2.7,"ob":0.25,"ib":0.35},{"p":"ZYG-12","t":-23,"ot":3.0,"it":2.55,"ob":0.27,"ib":0.37},{"p":"ZYG-12","t":-22,"ot":2.6,"it":2.4,"ob":0.28,"ib":0.38},{"p":"ZYG-12","t":-20,"ot":2.45,"it":2.25,"ob":0.3,"ib":0.36},{"p":"ZYG-12","t":-18,"ot":2.4,"it":2.2,"ob":0.3,"ib":0.35},{"p":"ZYG-12","t":-16,"ot":2.35,"it":2.2,"ob":0.3,"ib":0.35},{"p":"ZYG-12","t":-14,"ot":2.3,"it":2.15,"ob":0.28,"ib":0.3},{"p":"ZYG-12","t":-12,"ot":2.2,"it":2.0,"ob":0.12,"ib":0.15},{"p":"ZYG-12","t":-11,"ot":2.4,"it":2.3,"ob":0.05,"ib":0.12},{"p":"ZYG-12","t":-10,"ot":2.6,"it":2.55,"ob":0.05,"ib":0.12},{"p":"ZYG-12","t":-9,"ot":2.2,"it":2.0,"ob":0.04,"ib":0.1},{"p":"ZYG-12","t":-8,"ot":2.55,"it":2.2,"ob":0.02,"ib":0.1},{"p":"ZYG-12","t":-7,"ot":2.25,"it":1.9,"ob":0.04,"ib":0.12},{"p":"ZYG-12","t":-6,"ot":2.0,"it":1.7,"ob":0.06,"ib":0.13},{"p":"ZYG-12","t":-5,"ot":1.8,"it":1.45,"ob":0.08,"ib":0.15},{"p":"ZYG-12","t":-3,"ot":1.5,"it":1.25,"ob":0.12,"ib":0.18},{"p":"ZYG-12","t":-1,"ot":1.15,"it":1.1,"ob":0.15,"ib":0.2},
{"p":"EPI-1","t":-60,"ot":0.95,"it":0.65,"ob":0.2,"ib":0.3},{"p":"EPI-1","t":-58,"ot":0.75,"it":0.6,"ob":0.22,"ib":0.31},{"p":"EPI-1","t":-55,"ot":0.72,"it":0.6,"ob":0.25,"ib":0.32},{"p":"EPI-1","t":-52,"ot":0.7,"it":0.6,"ob":0.28,"ib":0.34},{"p":"EPI-1","t":-50,"ot":0.7,"it":0.6,"ob":0.3,"ib":0.35},{"p":"EPI-1","t":-47,"ot":0.6,"it":0.55,"ob":0.35,"ib":0.4},{"p":"EPI-1","t":-46,"ot":0.9,"it":0.75,"ob":0.3,"ib":0.4},{"p":"EPI-1","t":-44,"ot":0.9,"it":0.8,"ob":0.3,"ib":0.4},{"p":"EPI-1","t":-42,"ot":0.88,"it":0.8,"ob":0.3,"ib":0.38},{"p":"EPI-1","t":-40,"ot":0.85,"it":0.8,"ob":0.28,"ib":0.37},{"p":"EPI-1","t":-38,"ot":0.95,"it":0.82,"ob":0.28,"ib":0.35},{"p":"EPI-1","t":-36,"ot":1.0,"it":0.85,"ob":0.26,"ib":0.35},{"p":"EPI-1","t":-35,"ot":1.05,"it":0.88,"ob":0.25,"ib":0.35},{"p":"EPI-1","t":-34,"ot":1.45,"it":1.1,"ob":0.26,"ib":0.36},{"p":"EPI-1","t":-32,"ot":1.5,"it":1.15,"ob":0.28,"ib":0.38},{"p":"EPI-1","t":-30,"ot":1.5,"it":1.2,"ob":0.3,"ib":0.4},{"p":"EPI-1","t":-28,"ot":1.35,"it":1.2,"ob":0.35,"ib":0.45},{"p":"EPI-1","t":-27,"ot":3.1,"it":2.5,"ob":0.5,"ib":0.55},{"p":"EPI-1","t":-25,"ot":3.1,"it":2.55,"ob":0.6,"ib":0.65},{"p":"EPI-1","t":-24,"ot":2.95,"it":2.6,"ob":0.68,"ib":0.75},{"p":"EPI-1","t":-22,"ot":2.7,"it":2.5,"ob":0.75,"ib":0.8},{"p":"EPI-1","t":-20,"ot":2.5,"it":2.35,"ob":0.8,"ib":0.82},{"p":"EPI-1","t":-18,"ot":2.25,"it":2.1,"ob":0.82,"ib":0.85},{"p":"EPI-1","t":-16,"ot":2.15,"it":1.95,"ob":0.8,"ib":0.82},{"p":"EPI-1","t":-14,"ot":1.95,"it":1.8,"ob":0.72,"ib":0.8},{"p":"EPI-1","t":-12,"ot":1.75,"it":1.55,"ob":0.68,"ib":0.75},{"p":"EPI-1","t":-10,"ot":1.55,"it":1.4,"ob":0.55,"ib":0.6},{"p":"EPI-1","t":-8,"ot":1.3,"it":1.2,"ob":0.3,"ib":0.4},{"p":"EPI-1","t":-7,"ot":1.2,"it":1.1,"ob":0.15,"ib":0.3},
{"p":"ARD-1","t":-21,"ot":1.75,"it":1.3,"ob":0.75,"ib":0.78},{"p":"ARD-1","t":-20,"ot":1.4,"it":1.3,"ob":0.72,"ib":0.76},{"p":"ARD-1","t":-18,"ot":1.4,"it":1.35,"ob":0.68,"ib":0.72},{"p":"ARD-1","t":-16,"ot":1.45,"it":1.3,"ob":0.62,"ib":0.66},{"p":"ARD-1","t":-15,"ot":1.4,"it":1.3,"ob":0.6,"ib":0.63},{"p":"ARD-1","t":-14,"ot":2.6,"it":2.2,"ob":0.3,"ib":0.33},{"p":"ARD-1","t":-13,"ot":2.7,"it":2.3,"ob":0.25,"ib":0.3},{"p":"ARD-1","t":-12,"ot":2.65,"it":2.35,"ob":0.15,"ib":0.25},{"p":"ARD-1","t":-11,"ot":2.85,"it":2.5,"ob":0.1,"ib":0.18},{"p":"ARD-1","t":-10,"ot":2.9,"it":2.5,"ob":0.05,"ib":0.1},{"p":"ARD-1","t":-9,"ot":2.3,"it":2.2,"ob":0.05,"ib":0.08},{"p":"ARD-1","t":-8,"ot":2.1,"it":1.9,"ob":0.03,"ib":0.08},{"p":"ARD-1","t":-7,"ot":2.0,"it":1.7,"ob":0.03,"ib":0.05}
]},
"concat":[
{"width":340,"height":225,"title":{"text":"L4440","dx":19},
"encoding":{"x":{"field":"t","type":"quantitative","scale":{"domain":[-60,0],"nice":false},"title":null,"axis":{"values":[-60,-58,-56,-54,-52,-50,-48,-46,-44,-42,-40,-38,-36,-34,-32,-30,-28,-26,-24,-22,-20,-18,-16,-14,-12,-10,-8,-6,-4,-2,0],"labelExpr":"datum.value % 10 === 0 ? '' + datum.value : ''","labelFontSize":21,"labelOverlap":false,"tickSize":{"condition":{"test":"datum.value % 10 === 0","value":6},"value":3},"labelAngle":-45}}},
"layer":[
{"data":{"name":"bands"},"transform":[{"filter":"datum.p==='L4440'"}],"mark":{"type":"area","color":"#3caa46","opacity":0.27,"clip":true},"encoding":{"y":{"field":"ib","type":"quantitative","scale":{"domain":[0,3],"nice":false},"axis":{"values":[0,0.5,1,1.5,2,2.5,3],"labels":false,"tickSize":5,"title":["Raw intensity of GFP::CENP-A (AU • 10⁵) of  Sperm","(△) and Oocyte (▽) during pronuclei migration"],"titleFontSize":28.5,"titleLineHeight":37,"titlePadding":30,"titleY":392,"titleAlign":"center"}},"y2":{"field":"ot"}}},
{"data":{"name":"bands"},"transform":[{"filter":"datum.p==='L4440'"}],"mark":{"type":"area","color":"#3caa46","opacity":0.27,"clip":true},"encoding":{"y":{"field":"ob","type":"quantitative"},"y2":{"field":"it"}}},
{"data":{"name":"means"},"transform":[{"filter":"datum.p==='L4440'"},{"fold":["S","O"],"as":["s","m"]}],"layer":[
{"mark":{"type":"line","color":"#1a1a1a","strokeWidth":2.5},"encoding":{"y":{"field":"m","type":"quantitative"},"detail":{"field":"s"}}},
{"mark":{"type":"point","filled":true,"opacity":1,"color":"#27a845","size":110},"encoding":{"y":{"field":"m","type":"quantitative"},"shape":{"field":"s","type":"nominal","scale":{"domain":["S","O"],"range":["triangle-up","triangle-down"]},"legend":null}}}]}
]},
{"width":340,"height":225,"title":{"text":"KNL-2","dx":19},
"encoding":{"x":{"field":"t","type":"quantitative","scale":{"domain":[-60,0],"nice":false},"title":null,"axis":{"values":[-60,-58,-56,-54,-52,-50,-48,-46,-44,-42,-40,-38,-36,-34,-32,-30,-28,-26,-24,-22,-20,-18,-16,-14,-12,-10,-8,-6,-4,-2,0],"labelExpr":"datum.value % 10 === 0 ? '' + datum.value : ''","labelFontSize":21,"labelOverlap":false,"tickSize":{"condition":{"test":"datum.value % 10 === 0","value":6},"value":3},"labelAngle":-45}}},
"layer":[
{"data":{"name":"bands"},"transform":[{"filter":"datum.p==='KNL-2'"}],"mark":{"type":"area","color":"#3caa46","opacity":0.27,"clip":true},"encoding":{"y":{"field":"ib","type":"quantitative","scale":{"domain":[0,3],"nice":false},"title":null,"axis":{"values":[0,0.5,1,1.5,2,2.5,3],"labels":false,"tickSize":5}},"y2":{"field":"ot"}}},
{"data":{"name":"bands"},"transform":[{"filter":"datum.p==='KNL-2'"}],"mark":{"type":"area","color":"#3caa46","opacity":0.27,"clip":true},"encoding":{"y":{"field":"ob","type":"quantitative","title":null},"y2":{"field":"it"}}},
{"data":{"name":"means"},"transform":[{"filter":"datum.p==='L4440'"},{"fold":["S","O"],"as":["s","m"]}],"layer":[
{"mark":{"type":"line","color":"#1a1a1a","strokeWidth":1.2},"encoding":{"y":{"field":"m","type":"quantitative","title":null},"detail":{"field":"s"}}},
{"mark":{"type":"point","filled":true,"opacity":1,"color":"#3cb44b","size":7},"encoding":{"y":{"field":"m","type":"quantitative","title":null}}}]},
{"data":{"name":"means"},"transform":[{"filter":"datum.p==='KNL-2'"},{"fold":["S","O"],"as":["s","m"]}],"layer":[
{"mark":{"type":"line","color":"#1a1a1a","strokeWidth":2.5},"encoding":{"y":{"field":"m","type":"quantitative","title":null},"detail":{"field":"s"}}},
{"mark":{"type":"point","filled":true,"opacity":1,"color":"#27a845","size":110},"encoding":{"y":{"field":"m","type":"quantitative","title":null},"shape":{"field":"s","type":"nominal","scale":{"domain":["S","O"],"range":["triangle-up","triangle-down"]},"legend":null}}}]}
]},
{"width":340,"height":225,"title":{"text":"CYK-4","dx":25},
"encoding":{"x":{"field":"t","type":"quantitative","scale":{"domain":[-60,0],"nice":false},"title":null,"axis":{"values":[-60,-58,-56,-54,-52,-50,-48,-46,-44,-42,-40,-38,-36,-34,-32,-30,-28,-26,-24,-22,-20,-18,-16,-14,-12,-10,-8,-6,-4,-2,0],"labelExpr":"datum.value % 10 === 0 ? '' + datum.value : ''","labelFontSize":21,"labelOverlap":false,"tickSize":{"condition":{"test":"datum.value % 10 === 0","value":6},"value":3},"labelAngle":-45}}},
"layer":[
{"data":{"name":"bands"},"transform":[{"filter":"datum.p==='CYK-4'"}],"mark":{"type":"area","color":"#3caa46","opacity":0.27,"clip":true},"encoding":{"y":{"field":"ib","type":"quantitative","scale":{"domain":[0,3],"nice":false},"title":null,"axis":{"values":[0,0.5,1,1.5,2,2.5,3],"labelExpr":"datum.value === 0 ? '0' : ''","labelFontSize":17,"labelOverlap":false,"tickSize":5}},"y2":{"field":"ot"}}},
{"data":{"name":"bands"},"transform":[{"filter":"datum.p==='CYK-4'"}],"mark":{"type":"area","color":"#3caa46","opacity":0.27,"clip":true},"encoding":{"y":{"field":"ob","type":"quantitative","title":null},"y2":{"field":"it"}}},
{"data":{"name":"means"},"transform":[{"filter":"datum.p==='L4440'"},{"fold":["S","O"],"as":["s","m"]}],"layer":[
{"mark":{"type":"line","color":"#1a1a1a","strokeWidth":1.2},"encoding":{"y":{"field":"m","type":"quantitative","title":null},"detail":{"field":"s"}}},
{"mark":{"type":"point","filled":true,"opacity":1,"color":"#3cb44b","size":7},"encoding":{"y":{"field":"m","type":"quantitative","title":null}}}]},
{"data":{"name":"means"},"transform":[{"filter":"datum.p==='CYK-4'"},{"fold":["S","O"],"as":["s","m"]}],"layer":[
{"mark":{"type":"line","color":"#1a1a1a","strokeWidth":2.5},"encoding":{"y":{"field":"m","type":"quantitative","title":null},"detail":{"field":"s"}}},
{"mark":{"type":"point","filled":true,"opacity":1,"color":"#27a845","size":110},"encoding":{"y":{"field":"m","type":"quantitative","title":null},"shape":{"field":"s","type":"nominal","scale":{"domain":["S","O"],"range":["triangle-up","triangle-down"]},"legend":null}}}]}
]},
{"width":340,"height":225,"title":{"text":"CYK-1","dx":19},
"encoding":{"x":{"field":"t","type":"quantitative","scale":{"domain":[-60,0],"nice":false},"title":null,"axis":{"values":[-60,-58,-56,-54,-52,-50,-48,-46,-44,-42,-40,-38,-36,-34,-32,-30,-28,-26,-24,-22,-20,-18,-16,-14,-12,-10,-8,-6,-4,-2,0],"labelExpr":"datum.value % 10 === 0 ? '' + datum.value : ''","labelFontSize":21,"labelOverlap":false,"tickSize":{"condition":{"test":"datum.value % 10 === 0","value":6},"value":3},"labelAngle":-45}}},
"layer":[
{"data":{"name":"bands"},"transform":[{"filter":"datum.p==='CYK-1'"}],"mark":{"type":"area","color":"#3caa46","opacity":0.27,"clip":true},"encoding":{"y":{"field":"ib","type":"quantitative","scale":{"domain":[0,3],"nice":false},"title":null,"axis":{"values":[0,0.5,1,1.5,2,2.5,3],"labels":false,"tickSize":5}},"y2":{"field":"ot"}}},
{"data":{"name":"bands"},"transform":[{"filter":"datum.p==='CYK-1'"}],"mark":{"type":"area","color":"#3caa46","opacity":0.27,"clip":true},"encoding":{"y":{"field":"ob","type":"quantitative","title":null},"y2":{"field":"it"}}},
{"data":{"name":"means"},"transform":[{"filter":"datum.p==='L4440'"},{"fold":["S","O"],"as":["s","m"]}],"layer":[
{"mark":{"type":"line","color":"#1a1a1a","strokeWidth":1.2},"encoding":{"y":{"field":"m","type":"quantitative","title":null},"detail":{"field":"s"}}},
{"mark":{"type":"point","filled":true,"opacity":1,"color":"#3cb44b","size":7},"encoding":{"y":{"field":"m","type":"quantitative","title":null}}}]},
{"data":{"name":"means"},"transform":[{"filter":"datum.p==='CYK-1'"},{"fold":["S","O"],"as":["s","m"]}],"layer":[
{"mark":{"type":"line","color":"#1a1a1a","strokeWidth":2.5},"encoding":{"y":{"field":"m","type":"quantitative","title":null},"detail":{"field":"s"}}},
{"mark":{"type":"point","filled":true,"opacity":1,"color":"#27a845","size":110},"encoding":{"y":{"field":"m","type":"quantitative","title":null},"shape":{"field":"s","type":"nominal","scale":{"domain":["S","O"],"range":["triangle-up","triangle-down"]},"legend":null}}}]}
]},
{"width":340,"height":225,"title":{"text":"CDC-42","dx":19},
"encoding":{"x":{"field":"t","type":"quantitative","scale":{"domain":[-60,0],"nice":false},"title":null,"axis":{"values":[-60,-58,-56,-54,-52,-50,-48,-46,-44,-42,-40,-38,-36,-34,-32,-30,-28,-26,-24,-22,-20,-18,-16,-14,-12,-10,-8,-6,-4,-2,0],"labelExpr":"datum.value % 10 === 0 ? '' + datum.value : ''","labelFontSize":21,"labelOverlap":false,"tickSize":{"condition":{"test":"datum.value % 10 === 0","value":6},"value":3},"labelAngle":-45}}},
"layer":[
{"data":{"name":"bands"},"transform":[{"filter":"datum.p==='CDC-42'"}],"mark":{"type":"area","color":"#3caa46","opacity":0.27,"clip":true},"encoding":{"y":{"field":"ib","type":"quantitative","scale":{"domain":[0,3],"nice":false},"title":null,"axis":{"values":[0,0.5,1,1.5,2,2.5,3],"labels":false,"tickSize":5}},"y2":{"field":"ot"}}},
{"data":{"name":"bands"},"transform":[{"filter":"datum.p==='CDC-42'"}],"mark":{"type":"area","color":"#3caa46","opacity":0.27,"clip":true},"encoding":{"y":{"field":"ob","type":"quantitative","title":null},"y2":{"field":"it"}}},
{"data":{"name":"means"},"transform":[{"filter":"datum.p==='L4440'"},{"fold":["S","O"],"as":["s","m"]}],"layer":[
{"mark":{"type":"line","color":"#1a1a1a","strokeWidth":1.2},"encoding":{"y":{"field":"m","type":"quantitative","title":null},"detail":{"field":"s"}}},
{"mark":{"type":"point","filled":true,"opacity":1,"color":"#3cb44b","size":7},"encoding":{"y":{"field":"m","type":"quantitative","title":null}}}]},
{"data":{"name":"means"},"transform":[{"filter":"datum.p==='CDC-42'"},{"fold":["S","O"],"as":["s","m"]}],"layer":[
{"mark":{"type":"line","color":"#1a1a1a","strokeWidth":2.5},"encoding":{"y":{"field":"m","type":"quantitative","title":null},"detail":{"field":"s"}}},
{"mark":{"type":"point","filled":true,"opacity":1,"color":"#27a845","size":110},"encoding":{"y":{"field":"m","type":"quantitative","title":null},"shape":{"field":"s","type":"nominal","scale":{"domain":["S","O"],"range":["triangle-up","triangle-down"]},"legend":null}}}]}
]},
{"width":340,"height":225,"title":{"text":"LIN-53","dx":25},
"encoding":{"x":{"field":"t","type":"quantitative","scale":{"domain":[-60,0],"nice":false},"title":null,"axis":{"values":[-60,-58,-56,-54,-52,-50,-48,-46,-44,-42,-40,-38,-36,-34,-32,-30,-28,-26,-24,-22,-20,-18,-16,-14,-12,-10,-8,-6,-4,-2,0],"labelExpr":"datum.value % 10 === 0 ? '' + datum.value : ''","labelFontSize":21,"labelOverlap":false,"tickSize":{"condition":{"test":"datum.value % 10 === 0","value":6},"value":3},"labelAngle":-45}}},
"layer":[
{"data":{"name":"bands"},"transform":[{"filter":"datum.p==='LIN-53'"}],"mark":{"type":"area","color":"#3caa46","opacity":0.27,"clip":true},"encoding":{"y":{"field":"ib","type":"quantitative","scale":{"domain":[0,3],"nice":false},"title":null,"axis":{"values":[0,0.5,1,1.5,2,2.5,3],"labelExpr":"datum.value === 0 ? '0' : ''","labelFontSize":17,"labelOverlap":false,"tickSize":5}},"y2":{"field":"ot"}}},
{"data":{"name":"bands"},"transform":[{"filter":"datum.p==='LIN-53'"}],"mark":{"type":"area","color":"#3caa46","opacity":0.27,"clip":true},"encoding":{"y":{"field":"ob","type":"quantitative","title":null},"y2":{"field":"it"}}},
{"data":{"name":"means"},"transform":[{"filter":"datum.p==='L4440'"},{"fold":["S","O"],"as":["s","m"]}],"layer":[
{"mark":{"type":"line","color":"#1a1a1a","strokeWidth":1.2},"encoding":{"y":{"field":"m","type":"quantitative","title":null},"detail":{"field":"s"}}},
{"mark":{"type":"point","filled":true,"opacity":1,"color":"#3cb44b","size":7},"encoding":{"y":{"field":"m","type":"quantitative","title":null}}}]},
{"data":{"name":"means"},"transform":[{"filter":"datum.p==='LIN-53'"},{"fold":["S","O"],"as":["s","m"]}],"layer":[
{"mark":{"type":"line","color":"#1a1a1a","strokeWidth":2,"strokeDash":[2,3]},"encoding":{"y":{"field":"m","type":"quantitative","title":null},"detail":{"field":"s"}}},
{"mark":{"type":"point","filled":true,"opacity":1,"color":"#27a845","size":110},"encoding":{"y":{"field":"m","type":"quantitative","title":null},"shape":{"field":"s","type":"nominal","scale":{"domain":["S","O"],"range":["triangle-up","triangle-down"]},"legend":null}}}]}
]},
{"width":340,"height":225,"title":{"text":"ZYG-12","dx":19},
"encoding":{"x":{"field":"t","type":"quantitative","scale":{"domain":[-60,0],"nice":false},"axis":{"title":"Timepoints (15s)","titleY":48,"titleBaseline":"top","values":[-60,-58,-56,-54,-52,-50,-48,-46,-44,-42,-40,-38,-36,-34,-32,-30,-28,-26,-24,-22,-20,-18,-16,-14,-12,-10,-8,-6,-4,-2,0],"labelExpr":"datum.value % 10 === 0 ? '' + datum.value : ''","labelFontSize":21,"labelOverlap":false,"tickSize":{"condition":{"test":"datum.value % 10 === 0","value":6},"value":3},"labelAngle":-45}}},
"layer":[
{"data":{"name":"bands"},"transform":[{"filter":"datum.p==='ZYG-12'"}],"mark":{"type":"area","color":"#3caa46","opacity":0.27,"clip":true},"encoding":{"y":{"field":"ib","type":"quantitative","scale":{"domain":[0,3],"nice":false},"title":null,"axis":{"values":[0,0.5,1,1.5,2,2.5,3],"labelExpr":"datum.value % 1 === 0 ? '' + datum.value : ''","labelFontSize":22,"labelOverlap":false,"tickSize":5}},"y2":{"field":"ot"}}},
{"data":{"name":"bands"},"transform":[{"filter":"datum.p==='ZYG-12'"}],"mark":{"type":"area","color":"#3caa46","opacity":0.27,"clip":true},"encoding":{"y":{"field":"ob","type":"quantitative","title":null},"y2":{"field":"it"}}},
{"data":{"name":"means"},"transform":[{"filter":"datum.p==='L4440'"},{"fold":["S","O"],"as":["s","m"]}],"layer":[
{"mark":{"type":"line","color":"#1a1a1a","strokeWidth":1.2},"encoding":{"y":{"field":"m","type":"quantitative","title":null},"detail":{"field":"s"}}},
{"mark":{"type":"point","filled":true,"opacity":1,"color":"#3cb44b","size":7},"encoding":{"y":{"field":"m","type":"quantitative","title":null}}}]},
{"data":{"name":"means"},"transform":[{"filter":"datum.p==='ZYG-12'"},{"fold":["S","O"],"as":["s","m"]}],"layer":[
{"mark":{"type":"line","color":"#1a1a1a","strokeWidth":2.5},"encoding":{"y":{"field":"m","type":"quantitative","title":null},"detail":{"field":"s"}}},
{"mark":{"type":"point","filled":true,"opacity":1,"color":"#27a845","size":110},"encoding":{"y":{"field":"m","type":"quantitative","title":null},"shape":{"field":"s","type":"nominal","scale":{"domain":["S","O"],"range":["triangle-up","triangle-down"]},"legend":null}}}]}
]},
{"width":340,"height":225,"title":{"text":"EPI-1","dx":19},
"encoding":{"x":{"field":"t","type":"quantitative","scale":{"domain":[-60,0],"nice":false},"axis":{"title":"Timepoints (15s)","titleY":48,"titleBaseline":"top","values":[-60,-58,-56,-54,-52,-50,-48,-46,-44,-42,-40,-38,-36,-34,-32,-30,-28,-26,-24,-22,-20,-18,-16,-14,-12,-10,-8,-6,-4,-2,0],"labelExpr":"datum.value % 10 === 0 ? '' + datum.value : ''","labelFontSize":21,"labelOverlap":false,"tickSize":{"condition":{"test":"datum.value % 10 === 0","value":6},"value":3},"labelAngle":-45}}},
"layer":[
{"data":{"name":"bands"},"transform":[{"filter":"datum.p==='EPI-1'"}],"mark":{"type":"area","color":"#3caa46","opacity":0.27,"clip":true},"encoding":{"y":{"field":"ib","type":"quantitative","scale":{"domain":[0,3],"nice":false},"title":null,"axis":{"values":[0,0.5,1,1.5,2,2.5,3],"labels":false,"tickSize":5}},"y2":{"field":"ot"}}},
{"data":{"name":"bands"},"transform":[{"filter":"datum.p==='EPI-1'"}],"mark":{"type":"area","color":"#3caa46","opacity":0.27,"clip":true},"encoding":{"y":{"field":"ob","type":"quantitative","title":null},"y2":{"field":"it"}}},
{"data":{"name":"means"},"transform":[{"filter":"datum.p==='L4440'"},{"fold":["S","O"],"as":["s","m"]}],"layer":[
{"mark":{"type":"line","color":"#1a1a1a","strokeWidth":1.2},"encoding":{"y":{"field":"m","type":"quantitative","title":null},"detail":{"field":"s"}}},
{"mark":{"type":"point","filled":true,"opacity":1,"color":"#3cb44b","size":7},"encoding":{"y":{"field":"m","type":"quantitative","title":null}}}]},
{"data":{"name":"means"},"transform":[{"filter":"datum.p==='EPI-1'"},{"fold":["S","O"],"as":["s","m"]}],"layer":[
{"mark":{"type":"line","color":"#1a1a1a","strokeWidth":2.5},"encoding":{"y":{"field":"m","type":"quantitative","title":null},"detail":{"field":"s"}}},
{"mark":{"type":"point","filled":true,"opacity":1,"color":"#27a845","size":110},"encoding":{"y":{"field":"m","type":"quantitative","title":null},"shape":{"field":"s","type":"nominal","scale":{"domain":["S","O"],"range":["triangle-up","triangle-down"]},"legend":null}}}]}
]},
{"width":340,"height":225,"title":{"text":"ARD-1","dx":25},
"encoding":{"x":{"field":"t","type":"quantitative","scale":{"domain":[-60,0],"nice":false},"axis":{"title":"Timepoints (15s)","titleY":48,"titleBaseline":"top","values":[-60,-58,-56,-54,-52,-50,-48,-46,-44,-42,-40,-38,-36,-34,-32,-30,-28,-26,-24,-22,-20,-18,-16,-14,-12,-10,-8,-6,-4,-2,0],"labelExpr":"datum.value % 10 === 0 ? '' + datum.value : ''","labelFontSize":21,"labelOverlap":false,"tickSize":{"condition":{"test":"datum.value % 10 === 0","value":6},"value":3},"labelAngle":-45}}},
"layer":[
{"data":{"name":"bands"},"transform":[{"filter":"datum.p==='ARD-1'"}],"mark":{"type":"area","color":"#3caa46","opacity":0.27,"clip":true},"encoding":{"y":{"field":"ib","type":"quantitative","scale":{"domain":[0,3],"nice":false},"title":null,"axis":{"values":[0,0.5,1,1.5,2,2.5,3],"labels":false,"tickSize":5}},"y2":{"field":"ot"}}},
{"data":{"name":"bands"},"transform":[{"filter":"datum.p==='ARD-1'"}],"mark":{"type":"area","color":"#3caa46","opacity":0.27,"clip":true},"encoding":{"y":{"field":"ob","type":"quantitative","title":null},"y2":{"field":"it"}}},
{"data":{"name":"means"},"transform":[{"filter":"datum.p==='L4440'"},{"fold":["S","O"],"as":["s","m"]}],"layer":[
{"mark":{"type":"line","color":"#1a1a1a","strokeWidth":1.2},"encoding":{"y":{"field":"m","type":"quantitative","title":null},"detail":{"field":"s"}}},
{"mark":{"type":"point","filled":true,"opacity":1,"color":"#3cb44b","size":7},"encoding":{"y":{"field":"m","type":"quantitative","title":null}}}]},
{"data":{"name":"means"},"transform":[{"filter":"datum.p==='ARD-1'"},{"fold":["S","O"],"as":["s","m"]}],"layer":[
{"mark":{"type":"line","color":"#1a1a1a","strokeWidth":2.5},"encoding":{"y":{"field":"m","type":"quantitative","title":null},"detail":{"field":"s"}}},
{"mark":{"type":"point","filled":true,"opacity":1,"color":"#27a845","size":110},"encoding":{"y":{"field":"m","type":"quantitative","title":null},"shape":{"field":"s","type":"nominal","scale":{"domain":["S","O"],"range":["triangle-up","triangle-down"]},"legend":null}}}]}
]}
]
}
